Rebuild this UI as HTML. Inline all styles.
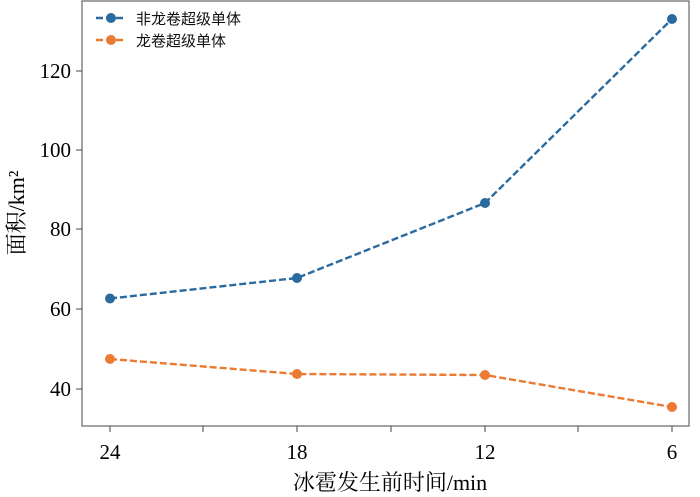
<!DOCTYPE html><html><head><style>body{margin:0;background:#fff}svg{display:block}</style></head><body>
<svg width="700" height="497" xmlns="http://www.w3.org/2000/svg" font-family="'Liberation Serif','Noto Serif CJK SC',serif">
<rect x="82" y="1" width="607" height="425" fill="none" stroke="#666" stroke-width="1.2"/>
<g stroke="#444" stroke-width="1">
<line x1="110" y1="426" x2="110" y2="432"/><line x1="203" y1="426" x2="203" y2="432"/>
<line x1="297" y1="426" x2="297" y2="432"/><line x1="391" y1="426" x2="391" y2="432"/>
<line x1="485" y1="426" x2="485" y2="432"/><line x1="578" y1="426" x2="578" y2="432"/>
<line x1="672" y1="426" x2="672" y2="432"/>
<line x1="76" y1="389" x2="82" y2="389"/><line x1="76" y1="309" x2="82" y2="309"/>
<line x1="76" y1="229" x2="82" y2="229"/><line x1="76" y1="150" x2="82" y2="150"/>
<line x1="76" y1="71" x2="82" y2="71"/>
</g>
<g font-size="21" fill="#000" text-anchor="middle">
<text x="110" y="459">24</text><text x="297" y="459">18</text><text x="485" y="459">12</text><text x="672" y="459">6</text>
</g>
<g font-size="21" fill="#000" text-anchor="end">
<text x="71" y="396">40</text><text x="71" y="316">60</text><text x="71" y="236">80</text><text x="71" y="157">100</text><text x="71" y="78">120</text>
</g>
<text x="390" y="490" font-size="22" text-anchor="middle">冰雹发生前时间/min</text>
<text transform="translate(24,213) rotate(-90)" font-size="22" text-anchor="middle">面积/km²</text>
<polyline points="110,298.5 297,278 485,203 672,19" fill="none" stroke="#2a6a9e" stroke-width="2.4" stroke-dasharray="7,3"/>
<polyline points="110,359 297,374 485,375 672,407" fill="none" stroke="#ec7a33" stroke-width="2.4" stroke-dasharray="7,3"/>
<g fill="#2a6a9e"><circle cx="110" cy="298.5" r="5"/><circle cx="297" cy="278" r="5"/><circle cx="485" cy="203" r="5"/><circle cx="672" cy="19" r="5"/></g>
<g fill="#ec7a33"><circle cx="110" cy="359" r="5"/><circle cx="297" cy="374" r="5"/><circle cx="485" cy="375" r="5"/><circle cx="672" cy="407" r="5"/></g>
<line x1="96" y1="18" x2="126" y2="18" stroke="#2a6a9e" stroke-width="2.4" stroke-dasharray="7,3"/><circle cx="111" cy="18" r="5" fill="#2a6a9e"/>
<line x1="96" y1="40" x2="126" y2="40" stroke="#ec7a33" stroke-width="2.4" stroke-dasharray="7,3"/><circle cx="111" cy="40" r="5" fill="#ec7a33"/>
<g font-family="'Liberation Sans','Noto Sans CJK SC',sans-serif" font-size="15" fill="#111">
<text x="136" y="24">非龙卷超级单体</text><text x="136" y="46">龙卷超级单体</text></g>
</svg></body></html>
